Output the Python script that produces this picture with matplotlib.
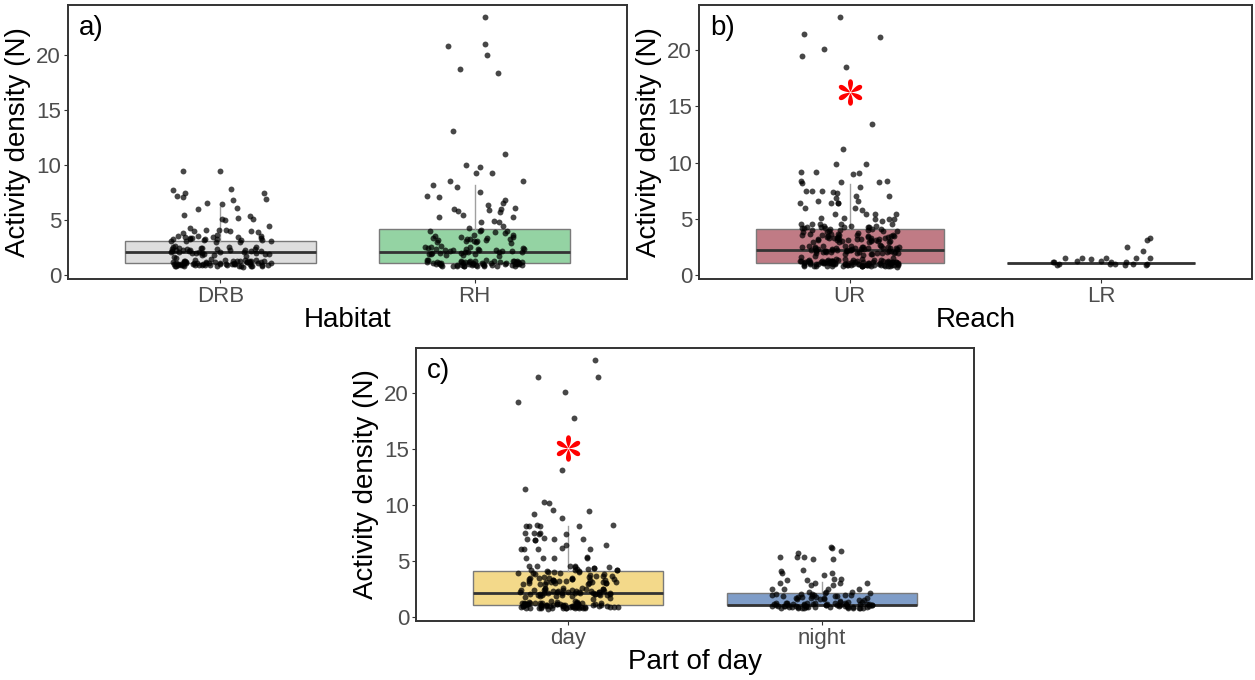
import numpy as np
import matplotlib
matplotlib.use("Agg")
import matplotlib.pyplot as plt
from matplotlib.path import Path

plt.rcParams['font.family'] = ['Liberation Sans', 'DejaVu Sans']

# ---------------- data ----------------
habitat_cats = ["DRB", "RH"]
reach_cats = ["UR", "LR"]
day_cats = ["day", "night"]

DRB = [9.45, 9.45, 7.8, 7.7, 7.45, 7.4, 7.2, 7.1, 6.9, 6.8, 6.5, 6.45, 6.05, 6.0, 5.4, 5.35,
       5.15, 5.1, 5.05, 4.95, 4.45, 4.25, 4.1, 4.1, 4.05, 4.0, 3.95, 3.95, 3.9, 3.85,
       3.62, 3.58, 3.55, 3.5, 3.47, 3.44, 3.4, 3.38, 3.35, 3.33, 3.3, 3.28, 3.25, 3.22, 3.2,
       3.17, 3.14, 3.1, 3.07, 3.04, 3.0, 2.96,
       2.6, 2.56, 2.52, 2.5, 2.47, 2.44, 2.42, 2.4, 2.37, 2.35, 2.33, 2.3, 2.28, 2.26, 2.24,
       2.22, 2.2, 2.18, 2.16, 2.14, 2.12, 2.1, 2.08, 2.06, 2.04, 2.02, 2.0, 1.98, 1.96, 1.93,
       1.9, 1.87, 1.84, 1.8, 1.75, 1.62, 1.55,
       1.42, 1.38, 1.35, 1.33, 1.31, 1.29, 1.28, 1.27, 1.25, 1.24, 1.23, 1.21, 1.2, 1.19, 1.18,
       1.17, 1.15, 1.14, 1.13, 1.12, 1.11, 1.1, 1.09, 1.08, 1.07, 1.06, 1.05, 1.04, 1.03, 1.02,
       1.01, 1.0, 0.99, 0.98, 0.97, 0.96, 0.95, 0.94, 0.93, 0.92, 0.91, 0.9, 0.89, 0.88, 0.87,
       0.86, 0.85, 0.84, 0.83, 0.82, 0.81, 0.8, 0.79, 0.78, 0.77, 0.76, 1.26, 1.16, 1.06, 0.96,
       0.86, 1.22, 1.12, 1.02, 0.92]

RH = [23.4, 21.0, 20.8, 20.0, 18.7, 18.35, 13.1, 11.0, 10.0, 9.85, 9.3, 9.25, 8.5, 8.5, 8.2,
      8.0, 7.5, 7.2, 7.1, 6.8, 6.55, 6.35, 6.1, 6.0, 5.95, 5.9, 5.8, 5.75, 5.45, 5.3, 5.25,
      4.9, 4.85, 4.8, 4.4, 4.25, 4.1, 3.95, 3.95, 3.95, 3.9, 3.85,
      3.65, 3.6, 3.52, 3.48, 3.42, 3.38, 3.35, 3.3, 3.27, 3.24, 3.2, 3.15, 3.12, 3.08, 3.05,
      3.0, 2.95, 2.9,
      2.62, 2.58, 2.54, 2.5, 2.46, 2.43, 2.4, 2.38, 2.35, 2.32, 2.3, 2.27, 2.25, 2.22, 2.2,
      2.18, 2.15, 2.12, 2.1, 2.07, 2.05, 2.02, 2.0, 1.97, 1.94, 1.9, 1.86, 1.82, 1.78, 1.72,
      1.4, 1.36, 1.32, 1.3, 1.28, 1.26, 1.24, 1.22, 1.2, 1.18, 1.16, 1.14, 1.12, 1.1, 1.08,
      1.06, 1.04, 1.02, 1.0, 0.98, 0.96, 0.94, 0.92, 0.9, 0.88, 0.86, 0.84, 0.82, 0.8, 0.78,
      1.27, 1.23, 1.19, 1.15, 1.11, 1.07, 1.03, 0.99, 0.95, 0.91, 0.87, 0.83, 0.79, 1.21,
      1.13, 1.05, 0.97, 0.89, 0.81, 1.17, 1.09, 1.01, 0.93, 0.85, 0.77]

UR = [22.9, 21.4, 21.2, 20.1, 19.5, 18.5, 13.4, 11.2, 9.85, 9.9, 9.2, 9.2, 9.1, 9.0, 8.4,
      8.25, 8.25, 8.4, 8.2, 7.8, 7.5, 7.45, 7.45, 7.3, 7.35, 7.05, 7.05, 6.85, 6.6, 6.6,
      6.45, 6.45, 6.45, 6.45, 5.95, 5.95, 5.75, 5.45, 5.45, 5.4, 5.4, 5.1, 5.1, 5.0, 5.0,
      5.0, 4.85, 4.55, 4.55, 4.55, 4.55, 4.55, 4.25, 4.25,
      4.4, 4.35, 4.3, 4.25, 4.2, 4.15, 4.1, 4.05, 4.0, 3.95, 3.9, 3.85, 3.8, 4.38, 4.22,
      4.08, 3.98, 3.88, 4.28, 4.12,
      3.7, 3.67, 3.64, 3.61, 3.58, 3.55, 3.52, 3.49, 3.46, 3.43, 3.4, 3.37, 3.34, 3.31, 3.28,
      3.25, 3.22, 3.19, 3.16, 3.13, 3.1, 3.07, 3.04, 3.01, 2.98, 2.95, 2.92, 3.56, 3.44,
      3.36, 3.26, 3.18, 3.08, 3.0, 3.48, 3.32, 3.2, 3.12, 3.6, 2.9,
      2.65, 2.62, 2.6, 2.58, 2.55, 2.53, 2.5, 2.48, 2.46, 2.44, 2.42, 2.4, 2.38, 2.36, 2.34,
      2.32, 2.3, 2.28, 2.26, 2.24, 2.22, 2.2, 2.18, 2.16, 2.14, 2.12, 2.1, 2.08, 2.06, 2.04,
      2.02, 2.0, 1.98, 1.96, 1.94, 1.92, 1.9, 1.87, 1.84, 1.8, 2.57, 2.47, 2.37, 2.27, 2.17,
      2.07, 1.97, 2.52, 2.41, 2.31, 2.21, 2.11, 2.01, 2.45, 2.25, 1.7, 1.6, 1.52,
      1.45, 1.42, 1.4, 1.38, 1.36, 1.34, 1.32, 1.31, 1.3, 1.29, 1.28, 1.27, 1.26, 1.25, 1.24,
      1.23, 1.22, 1.21, 1.2, 1.19, 1.18, 1.17, 1.16, 1.15, 1.14, 1.13, 1.12, 1.11, 1.1, 1.09,
      1.08, 1.07, 1.06, 1.05, 1.04, 1.03, 1.02, 1.01, 1.0, 0.99, 0.98, 0.97, 0.96, 0.95,
      0.94, 0.93, 0.92, 0.91, 0.9, 0.89, 0.88, 0.87, 0.86, 0.85, 0.84, 0.83, 0.82, 0.81, 0.8,
      0.79, 0.78, 0.77, 0.76, 1.245, 1.205, 1.165, 1.125, 1.085, 1.045, 1.005, 0.965, 0.925,
      0.885, 0.845, 0.805, 1.285, 1.185, 1.085, 0.985, 0.885, 0.785, 1.235, 1.135, 1.035,
      0.935, 0.835, 1.155, 1.055, 0.955, 0.855]

LR = [3.3, 3.1, 2.5, 2.1, 1.55, 1.5, 1.5, 1.48, 1.45, 1.5, 1.25, 1.2, 1.18, 1.22, 1.2,
      1.15, 0.98, 0.95, 0.92, 0.97, 0.9, 0.95, 1.0, 0.93]

DAY = [22.9, 21.4, 21.4, 20.1, 19.2, 17.8, 13.1, 11.4, 10.3, 10.15, 9.55, 9.5, 9.2, 8.85,
       8.15, 8.2, 8.1, 8.15, 8.2, 8.1, 7.5, 7.55, 7.45, 7.5, 7.4, 6.95, 7.0, 6.9, 6.95, 7.05,
       6.9, 6.45, 6.45, 6.1, 6.1, 6.05, 6.1, 6.15, 5.3, 5.35, 5.25, 5.3, 5.3, 4.55, 4.6, 4.5,
       4.55, 4.55, 4.5, 4.25, 4.25, 4.2, 4.3,
       4.4, 4.3, 4.2, 4.1, 4.05, 4.0, 3.95, 3.9, 3.85, 3.8, 4.35, 4.15, 3.98, 3.88, 4.02,
       3.72, 3.68, 3.64, 3.6, 3.56, 3.52, 3.48, 3.44, 3.4, 3.37, 3.34, 3.31, 3.28, 3.25, 3.22,
       3.19, 3.16, 3.13, 3.1, 3.07, 3.04, 3.01, 2.98, 2.95, 2.92, 3.5, 3.38, 3.26, 3.14,
       3.02, 3.46, 3.3, 3.18, 3.06, 2.94,
       2.64, 2.61, 2.58, 2.55, 2.52, 2.49, 2.46, 2.44, 2.42, 2.4, 2.37, 2.35, 2.33, 2.3, 2.28,
       2.26, 2.24, 2.22, 2.2, 2.18, 2.16, 2.14, 2.12, 2.1, 2.08, 2.06, 2.04, 2.02, 2.0, 1.98,
       1.95, 1.92, 1.89, 1.86, 1.82, 2.5, 2.38, 2.29, 2.19, 2.09, 1.99, 2.43, 2.27, 2.13,
       2.05, 1.7, 1.6,
       1.44, 1.41, 1.38, 1.35, 1.33, 1.31, 1.29, 1.28, 1.27, 1.26, 1.25, 1.24, 1.23, 1.22,
       1.21, 1.2, 1.19, 1.18, 1.17, 1.16, 1.15, 1.14, 1.13, 1.12, 1.11, 1.1, 1.09, 1.08, 1.07,
       1.06, 1.05, 1.04, 1.03, 1.02, 1.01, 1.0, 0.99, 0.98, 0.97, 0.96, 0.95, 0.94, 0.93,
       0.92, 0.91, 0.9, 0.89, 0.88, 0.87, 0.86, 0.85, 0.84, 0.83, 0.82, 0.81, 0.8, 0.79, 0.78,
       0.77, 1.245, 1.195, 1.145, 1.095, 1.045, 0.995, 0.945, 0.895, 0.845, 0.795, 1.265,
       1.165, 1.065, 0.965, 0.865]

NIGHT = [6.3, 6.15, 5.9, 5.75, 5.4, 5.4, 5.4, 5.2, 5.2, 4.25, 4.15, 3.95, 3.95, 3.8, 3.4,
         3.4, 3.3, 3.3, 3.05, 3.05, 3.05, 3.05, 2.9, 2.9, 2.5, 2.5, 2.5, 2.5, 2.25, 2.25, 2.25,
         2.2, 2.15, 2.1, 2.08, 2.05, 2.02, 2.0, 1.98, 1.95, 1.92, 1.9, 1.88, 1.85, 1.82, 1.8,
         1.78, 1.75, 1.72, 1.7, 1.68, 1.65, 1.62, 1.6, 1.55, 1.5,
         1.42, 1.38, 1.35, 1.32, 1.3, 1.28, 1.26, 1.24, 1.22, 1.2, 1.18, 1.16, 1.14, 1.12, 1.1,
         1.08, 1.06, 1.04, 1.02, 1.0, 0.98, 0.96, 0.94, 0.92, 0.9, 0.88, 0.86, 0.84, 0.82, 0.8,
         0.78, 1.27, 1.23, 1.19, 1.15, 1.11, 1.07, 1.03, 0.99, 0.95, 0.91, 0.87, 0.83, 0.79,
         1.21, 1.13, 1.05, 0.97, 0.89, 0.81, 1.17, 1.09, 1.01, 0.93, 0.85, 1.25, 1.0, 0.9]

# box statistics: q1, median, q3, upper whisker
box_q1 = {"DRB": 1.1, "RH": 1.1, "UR": 1.1, "LR": 1.1, "day": 1.05, "night": 1.05}
box_med = {"DRB": 2.1, "RH": 2.1, "UR": 2.2, "LR": 1.1, "day": 2.15, "night": 1.1}
box_q3 = {"DRB": 3.1, "RH": 4.15, "UR": 4.1, "LR": 1.1, "day": 4.15, "night": 2.15}
box_whi = {"DRB": 6.2, "RH": 8.15, "UR": 8.1, "LR": 1.1, "day": 8.1, "night": 3.1}

box_colors = {"DRB": "#dedede", "RH": "#94d3a3", "UR": "#c07b85",
              "LR": "#c07b85", "day": "#f3d98a", "night": "#7f9dc8"}

star_b = (1.0, 16.3)
star_c = (1.0, 15.1)

panel_data = [
    ("a)", "Habitat", habitat_cats, [DRB, RH], None),
    ("b)", "Reach", reach_cats, [UR, LR], star_b),
    ("c)", "Part of day", day_cats, [DAY, NIGHT], star_c),
]

# ---------------- figure ----------------
W, H = 1255, 680
fig = plt.figure(figsize=(W / 100, H / 100), dpi=100)

def rect(l, r, t, b):
    return [l / W, 1 - b / H, (r - l) / W, (b - t) / H]

rects = [rect(68, 627, 5, 279), rect(699, 1252, 5, 279), rect(416, 974, 348, 621)]

# six-petal asterisk marker (teardrop petals around the centre)
def petal_star():
    t = np.linspace(0, 2 * np.pi, 60)
    verts, codes = [], []
    for ang in np.deg2rad([90, 30, -30, -90, -150, 150]):
        s = (1 - np.cos(t)) / 2
        u = 0.03 + 0.47 * s
        w = 0.13 * np.sin(t) * (0.3 + 0.7 * s)
        x = u * np.cos(ang) - w * np.sin(ang)
        y = u * np.sin(ang) + w * np.cos(ang)
        pts = np.column_stack([x, y])
        verts.extend(pts)
        codes.extend([Path.MOVETO] + [Path.LINETO] * (len(pts) - 2) + [Path.CLOSEPOLY])
    return Path(np.array(verts), codes)

star_marker = petal_star()

rng = np.random.default_rng(11)

for (lab, xlab, cats, series, star), rc in zip(panel_data, rects):
    ax = fig.add_axes(rc)
    stats = []
    for c in cats:
        stats.append(dict(med=box_med[c], q1=box_q1[c], q3=box_q3[c],
                          whislo=box_q1[c], whishi=box_whi[c], fliers=[]))
    bp = ax.bxp(stats, positions=[1, 2], widths=0.75, patch_artist=True,
                showfliers=False, showcaps=False,
                boxprops=dict(edgecolor="#7a7a7a", linewidth=1.0),
                medianprops=dict(color="#333333", linewidth=2.0),
                whiskerprops=dict(color="#a0a0a0", linewidth=1.0),
                zorder=1)
    for patch, c in zip(bp["boxes"], cats):
        patch.set_facecolor(box_colors[c])
    for i, vals in enumerate(series):
        vals = np.asarray(vals)
        x = (i + 1) + rng.uniform(-0.2, 0.2, len(vals))
        ax.scatter(x, vals, s=18, color="black", alpha=0.72, linewidths=0, zorder=3)
    if star is not None:
        ax.plot([star[0]], [star[1]], marker=star_marker, markersize=19,
                color="red", markeredgewidth=0, linestyle="none", zorder=4)
    ax.set_xlim(0.4, 2.6)
    ax.margins(y=0.05)
    ax.set_xticks([1, 2])
    ax.set_xticklabels(cats)
    ax.set_yticks([0, 5, 10, 15, 20])
    ax.tick_params(axis="both", labelsize=16, labelcolor="#4d4d4d", color="#333333",
                   length=3, width=0.8)
    ax.tick_params(axis="x", pad=2)
    ax.tick_params(axis="y", pad=2)
    for sp in ax.spines.values():
        sp.set_color("#333333")
        sp.set_linewidth(1.4)
    ax.set_xlabel(xlab, fontsize=20, color="black", labelpad=0)
    ax.set_ylabel("Activity density (N)", fontsize=20, color="black", labelpad=4)
    ax.text(0.02, 0.965, lab, transform=ax.transAxes, fontsize=20, va="top", ha="left")

fig.savefig("out.png", dpi=100)
